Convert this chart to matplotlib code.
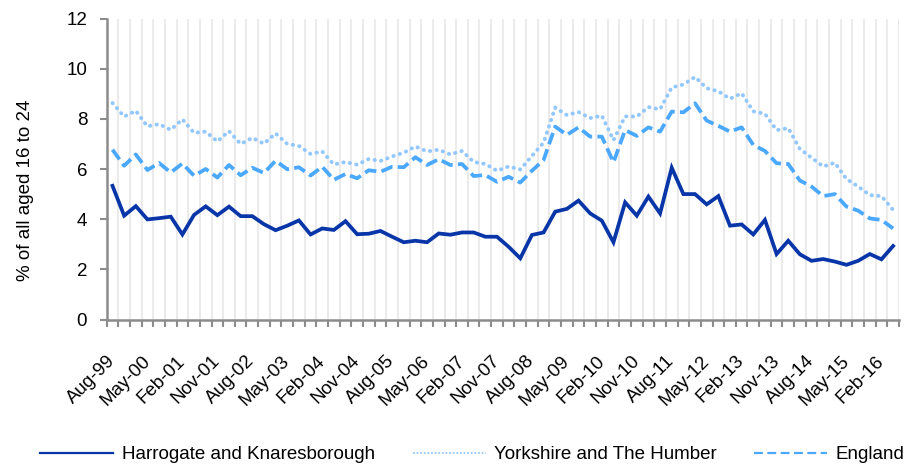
import numpy as np
import pandas as pd
import matplotlib
matplotlib.use("Agg")
import matplotlib.pyplot as plt
from matplotlib.lines import Line2D

plt.rcParams['font.family'] = ['Liberation Sans', 'DejaVu Sans']

# quarterly categories, Aug-99 .. May-16
quarters = pd.date_range('1999-08-01', periods=68, freq='3MS')
labels = [d.strftime('%b-%y') for d in quarters]

# % of all aged 16 to 24
harrogate = [5.33, 4.14, 4.52, 3.99, 4.04, 4.10, 3.39, 4.17, 4.51, 4.16,
             4.50, 4.12, 4.12, 3.80, 3.56, 3.74, 3.95, 3.39, 3.63, 3.57,
             3.92, 3.40, 3.42, 3.53, 3.30, 3.08, 3.14, 3.08, 3.43, 3.38,
             3.47, 3.47, 3.30, 3.30, 2.90, 2.44, 3.37, 3.47, 4.30, 4.41,
             4.74, 4.23, 3.94, 3.08, 4.67, 4.14, 4.90, 4.23, 6.05, 5.00,
             5.00, 4.59, 4.92, 3.74, 3.79, 3.39, 3.97, 2.61, 3.14, 2.60,
             2.34, 2.41, 2.31, 2.18, 2.34, 2.61, 2.40, 2.93]
yorkshire = [8.63, 8.09, 8.32, 7.70, 7.79, 7.56, 7.98, 7.44, 7.49, 7.10,
             7.51, 7.00, 7.24, 7.01, 7.42, 7.00, 6.92, 6.60, 6.70, 6.18,
             6.28, 6.17, 6.40, 6.32, 6.50, 6.65, 6.90, 6.70, 6.77, 6.58,
             6.72, 6.28, 6.20, 5.93, 6.10, 5.98, 6.52, 7.05, 8.45, 8.15,
             8.27, 8.03, 8.13, 7.15, 8.10, 8.09, 8.47, 8.38, 9.25, 9.37,
             9.67, 9.22, 9.10, 8.80, 9.02, 8.30, 8.20, 7.55, 7.63, 6.80,
             6.45, 6.10, 6.25, 5.60, 5.30, 4.96, 4.92, 4.37]
england = [6.77, 6.13, 6.58, 5.96, 6.24, 5.86, 6.22, 5.73, 6.00, 5.66,
           6.16, 5.75, 6.05, 5.84, 6.33, 5.99, 6.07, 5.74, 6.09, 5.57,
           5.80, 5.63, 5.95, 5.89, 6.09, 6.07, 6.47, 6.16, 6.39, 6.16,
           6.20, 5.72, 5.76, 5.49, 5.69, 5.46, 5.93, 6.36, 7.69, 7.36,
           7.66, 7.29, 7.29, 6.27, 7.55, 7.32, 7.66, 7.49, 8.29, 8.26,
           8.62, 7.93, 7.72, 7.49, 7.66, 6.96, 6.72, 6.23, 6.20, 5.54,
           5.30, 4.92, 5.00, 4.50, 4.34, 4.03, 3.97, 3.63]

c_harr = '#0836a8'
c_york = '#93c8ff'
c_eng = '#4aa8ff'
grey = '#8c8c8c'

x = np.arange(len(labels))

fig = plt.figure(figsize=(9.14, 4.65), dpi=100)
ax = fig.add_axes([0.1167, 0.3129, 0.8668, 0.6473])

ax.plot(x, yorkshire, color=c_york, lw=2.8, linestyle=(0, (0.1, 1.6)),
        dash_capstyle='round', zorder=3)
ax.plot(x, england, color=c_eng, lw=2.7, linestyle=(0, (3.2, 1.4)),
        dash_capstyle='butt', zorder=4)
ax.plot(x, harrogate, color=c_harr, lw=2.7, solid_joinstyle='miter', zorder=5)

ax.set_xlim(-0.5, len(labels) - 0.5)
ax.set_ylim(0, 12)
ax.set_yticks(range(0, 13, 2))

# category boundaries: tick marks + light vertical gridlines
bounds = np.arange(-0.5, len(labels), 1)
ax.set_xticks(bounds)
ax.set_xticklabels([])
ax.grid(axis='x', color='#ebebeb', lw=1.5, zorder=0)
ax.set_axisbelow(True)
ax.set_xticks(x[::3], labels[::3], minor=True)
ax.tick_params(axis='x', which='major', length=5, width=1.5, color=grey)
ax.tick_params(axis='x', which='minor', length=0, pad=28, labelsize=13.5)
for t in ax.get_xticklabels(minor=True):
    t.set_rotation(45)
    t.set_ha('right')
    t.set_va('center')
    t.set_rotation_mode('anchor')
ax.tick_params(axis='y', length=5, width=1.5, color=grey, pad=9, labelsize=13.5)

for s in ['top', 'right']:
    ax.spines[s].set_visible(False)
for s in ['left', 'bottom']:
    ax.spines[s].set_color(grey)
    ax.spines[s].set_linewidth(1.8)

ax.set_ylabel('% of all aged 16 to 24', fontsize=13.5)
ax.yaxis.set_label_coords(-0.092, 0.43)

handles = [Line2D([], [], color=c_harr, lw=1.6),
           Line2D([], [], color=c_york, lw=1.3, linestyle=(0, (1, 1))),
           Line2D([], [], color=c_eng, lw=1.6, linestyle=(0, (4, 2)))]
names = ['Harrogate and Knaresborough', 'Yorkshire and The Humber', 'England']
fig.legend(handles, names, loc='center', bbox_to_anchor=(0.517, 0.022),
           ncol=3, frameon=False, fontsize=13.5, handlelength=3.9,
           handletextpad=0.45, columnspacing=2.0)

fig.savefig('out.png', dpi=100)
